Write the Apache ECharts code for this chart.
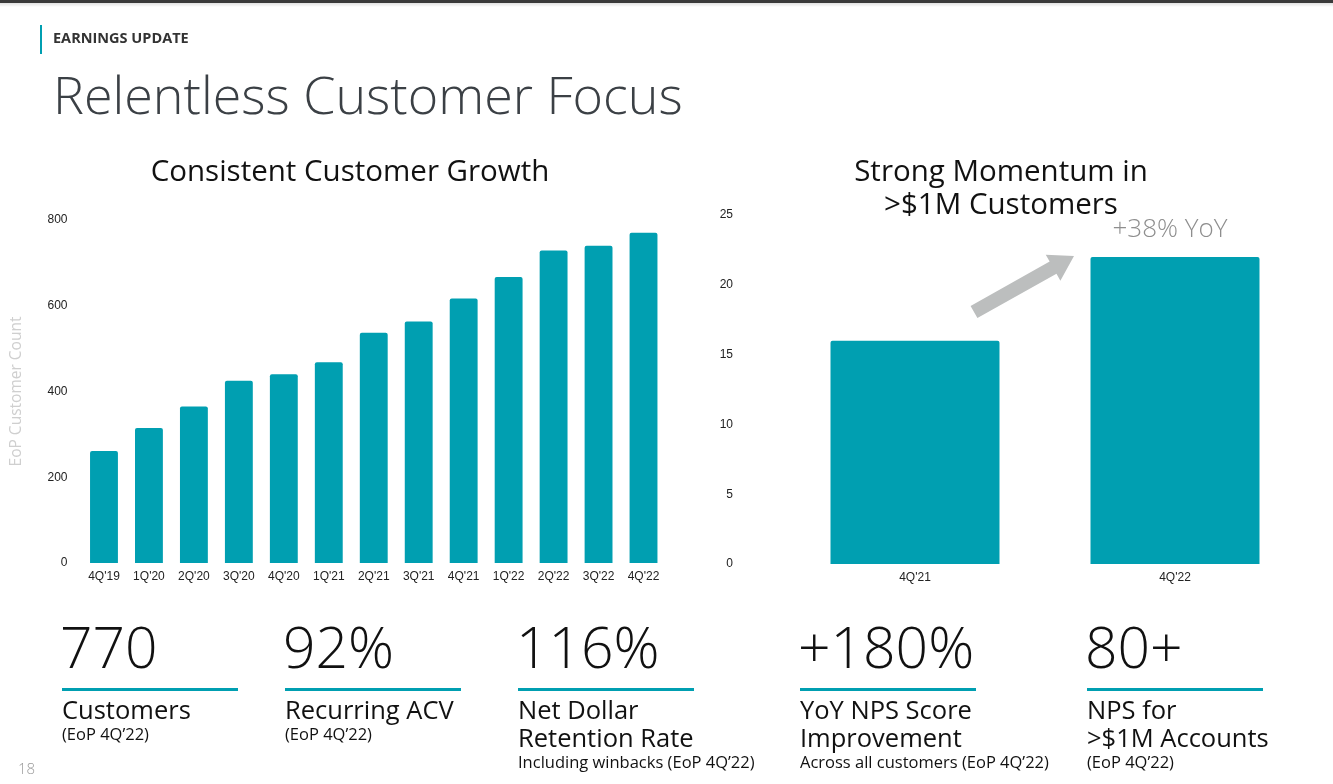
<!DOCTYPE html>
<html lang="en" style="height: 100%">
<head>
    <meta charset="utf-8">
    <title>Relentless Customer Focus</title>
    <script src="https://cdn.jsdelivr.net/npm/echarts@6/dist/echarts.min.js"></script>
    <style>
        html, body { margin: 0; padding: 0; background: #fff; }
        #chart { width: 1333px; height: 784px; }
    </style>
</head>
<body>
<div id="chart"></div>

<script type="text/javascript">
    // customer counts per quarter
    var quarters = ["4Q'19", "1Q'20", "2Q'20", "3Q'20", "4Q'20", "1Q'21", "2Q'21",
        "3Q'21", "4Q'21", "1Q'22", "2Q'22", "3Q'22", "4Q'22"];
    var customerCounts = [261, 315, 365, 425, 440, 468, 537, 563, 617, 667, 729, 740, 770];

    // >$1M customers
    var bigQuarters = ["4Q'21", "4Q'22"];
    var bigCustomers = [16, 22];

    // tick labels
    var leftTicks = { min: 0, max: 800, interval: 200 };
    var rightTicks = { min: 0, max: 25, interval: 5 };

    // KPI row
    var statValues = ['770', '92%', '116%', '+180%', '80+'];
    var statLabels = [
        ['Customers'],
        ['Recurring ACV'],
        ['Net Dollar', 'Retention Rate'],
        ['YoY NPS Score', 'Improvement'],
        ['NPS for', '>$1M Accounts']
    ];
    var statNotes = ['(EoP 4Q\u201922)', '(EoP 4Q\u201922)', 'Including winbacks (EoP 4Q\u201922)',
        'Across all customers (EoP 4Q\u201922)', '(EoP 4Q\u201922)'];

    var TEAL = '#009fb1';
    var FONT = '"Open Sans", "Noto Sans", sans-serif';
    var AXISFONT = '"Liberation Sans", Arial, sans-serif';

    var myChart = echarts.init(document.getElementById('chart'));

    // page furniture
    var graphics = [
        { type: 'rect', shape: { x: 0, y: 0, width: 1333, height: 3 }, style: { fill: '#3a3a3a' } },
        { type: 'rect', shape: { x: 0, y: 3, width: 1333, height: 4 },
            style: { fill: new echarts.graphic.LinearGradient(0, 0, 0, 1, [
                { offset: 0, color: 'rgba(0,0,0,0.12)' }, { offset: 1, color: 'rgba(0,0,0,0)' }]) } },
        { type: 'rect', shape: { x: 40, y: 25, width: 2, height: 29 }, style: { fill: TEAL } },
        { type: 'text', x: 53, y: 39, style: { text: 'EARNINGS UPDATE', font: 'bold 14.5px ' + FONT,
                fill: '#333', verticalAlign: 'middle' } },
        { type: 'text', x: 53, y: 99, style: { text: 'Relentless Customer Focus', font: '300 52px ' + FONT,
                fill: '#3b4045', verticalAlign: 'middle' } },
        { type: 'text', x: 350, y: 173, style: { text: 'Consistent Customer Growth', font: '29.5px ' + FONT,
                fill: '#111', align: 'center', verticalAlign: 'middle' } },
        { type: 'text', x: 1001, y: 173, style: { text: 'Strong Momentum in', font: '29.5px ' + FONT,
                fill: '#111', align: 'center', verticalAlign: 'middle' } },
        { type: 'text', x: 1001, y: 206, style: { text: '>$1M Customers', font: '29.5px ' + FONT,
                fill: '#111', align: 'center', verticalAlign: 'middle' } },
        { type: 'text', x: 1170, y: 230, style: { text: '+38% YoY', font: '300 26px ' + FONT,
                fill: '#8e8e8e', align: 'center', verticalAlign: 'middle' } },
        { type: 'text', x: 18, y: 770, style: { text: '18', font: '300 15px ' + FONT,
                fill: '#9a9a9a', verticalAlign: 'middle' } }
    ];

    // arrow between the two bars
    function arrow(x1, y1, x2, y2, shaft, headW, headL) {
        var dx = x2 - x1, dy = y2 - y1, len = Math.sqrt(dx * dx + dy * dy);
        var ux = dx / len, uy = dy / len, nx = -uy, ny = ux;
        var bx = x2 - ux * headL, by = y2 - uy * headL;
        return [
            [x1 + nx * shaft / 2, y1 + ny * shaft / 2],
            [bx + nx * shaft / 2, by + ny * shaft / 2],
            [bx + nx * headW / 2, by + ny * headW / 2],
            [x2, y2],
            [bx - nx * headW / 2, by - ny * headW / 2],
            [bx - nx * shaft / 2, by - ny * shaft / 2],
            [x1 - nx * shaft / 2, y1 - ny * shaft / 2]
        ];
    }
    graphics.push({ type: 'polygon', shape: { points: arrow(974, 312, 1074, 256, 14, 30, 24) },
        style: { fill: '#bcbebe' } });

    // KPI blocks
    var statX = [62, 285, 518, 800, 1087];
    statValues.forEach(function (v, i) {
        var x = statX[i];
        graphics.push({ type: 'text', x: x - 2, y: 652, style: { text: v, font: '300 57px ' + FONT,
                fill: '#111', verticalAlign: 'middle' } });
        graphics.push({ type: 'rect', shape: { x: x, y: 688, width: 176, height: 3 }, style: { fill: TEAL } });
        statLabels[i].forEach(function (t, j) {
            graphics.push({ type: 'text', x: x, y: 712 + j * 28, style: { text: t, font: '25.5px ' + FONT,
                    fill: '#111', verticalAlign: 'middle' } });
        });
        graphics.push({ type: 'text', x: x, y: 735 + (statLabels[i].length - 1) * 28,
            style: { text: statNotes[i], font: '16.5px ' + FONT, fill: '#111', verticalAlign: 'middle' } });
    });

    var axisLabel = { color: '#222', fontSize: 12, fontFamily: AXISFONT };

    myChart.setOption({
        animation: false,
        grid: [
            { left: 81.5, top: 220, width: 584.5, height: 343 },
            { left: 785, top: 215, width: 520, height: 349 }
        ],
        xAxis: [
            { type: 'category', gridIndex: 0, data: quarters,
                axisLine: { show: false }, axisTick: { show: false },
                axisLabel: Object.assign({ margin: 8, interval: 0 }, axisLabel) },
            { type: 'category', gridIndex: 1, data: bigQuarters,
                axisLine: { show: false }, axisTick: { show: false },
                axisLabel: Object.assign({ margin: 8, interval: 0 }, axisLabel) }
        ],
        yAxis: [
            { type: 'value', gridIndex: 0, min: leftTicks.min, max: leftTicks.max, interval: leftTicks.interval,
                name: 'EoP Customer Count', nameLocation: 'middle', nameGap: 57, nameRotate: 90,
                nameTextStyle: { color: '#cfcfcf', fontSize: 15.5, fontFamily: FONT },
                axisLine: { show: false }, axisTick: { show: false }, splitLine: { show: false },
                axisLabel: Object.assign({ margin: 14 }, axisLabel) },
            { type: 'value', gridIndex: 1, min: rightTicks.min, max: rightTicks.max, interval: rightTicks.interval,
                axisLine: { show: false }, axisTick: { show: false }, splitLine: { show: false },
                axisLabel: Object.assign({ margin: 52 }, axisLabel) }
        ],
        series: [
            { type: 'bar', xAxisIndex: 0, yAxisIndex: 0, data: customerCounts, barWidth: '62%',
                itemStyle: { color: TEAL, borderRadius: [2, 2, 0, 0] } },
            { type: 'bar', xAxisIndex: 1, yAxisIndex: 1, data: bigCustomers, barWidth: '65%',
                itemStyle: { color: TEAL, borderRadius: [2, 2, 0, 0] } }
        ],
        graphic: graphics
    });
</script>

</body>
</html>
